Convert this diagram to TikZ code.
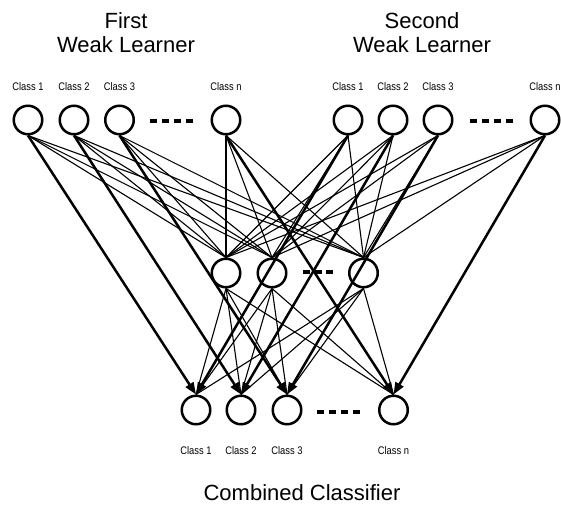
\documentclass[tikz,border=0pt]{standalone}
\usepackage{fontspec}
\setmainfont{Liberation Sans}
\newfontfamily\narrowfont[FakeStretch=0.85]{Liberation Sans}
\usetikzlibrary{arrows.meta}
\begin{document}
\begin{tikzpicture}[x=1pt,y=-1pt,
  unit/.style={circle,draw,line width=2.5pt,minimum size=28.5pt,inner sep=0pt,fill=white},
  lbl/.style={font=\narrowfont\fontsize{11}{13}\selectfont,inner sep=0pt},
  ttl/.style={font=\fontsize{22}{23.5}\selectfont,align=center,inner sep=0pt},
  wire/.style={line width=1.1pt},
  strong/.style={line width=2.5pt,-{Triangle[length=12pt,width=9pt]}},
  dotrow/.style={line width=4pt,dash pattern=on 7pt off 5pt}]
\useasboundingbox (0,0) rectangle (561,506);
% titles
\node[ttl] (t1) at (126,32.5) {First\\Weak Learner};
\node[ttl] (t2) at (422,32.5) {Second\\Weak Learner};
\node[ttl] (t3) at (302,493) {Combined Classifier};
% top left
\node[unit] (T1) at (28,120) {};
\node[unit] (T2) at (74,120) {};
\node[unit] (T3) at (119.5,120) {};
\node[unit] (Tn) at (226,120) {};
% top right
\node[unit] (U1) at (348,120) {};
\node[unit] (U2) at (393,120) {};
\node[unit] (U3) at (438,120) {};
\node[unit] (Un) at (545,120) {};
% middle
\node[unit] (M1) at (226,273) {};
\node[unit] (M2) at (272,273) {};
\node[unit] (Mn) at (363.5,273) {};
% bottom
\node[unit] (B1) at (196,410) {};
\node[unit] (B2) at (241,410) {};
\node[unit] (B3) at (287,410) {};
\node[unit] (Bn) at (393.5,410) {};
% labels
\node[lbl] (lT1) at (28,87) {Class 1};
\node[lbl] (lT2) at (74,87) {Class 2};
\node[lbl] (lT3) at (119.5,87) {Class 3};
\node[lbl] (lTn) at (226,87) {Class n};
\node[lbl] (lU1) at (348,87) {Class 1};
\node[lbl] (lU2) at (393,87) {Class 2};
\node[lbl] (lU3) at (438,87) {Class 3};
\node[lbl] (lUn) at (545,87) {Class n};
\node[lbl] (lB1) at (196,451) {Class 1};
\node[lbl] (lB2) at (241,451) {Class 2};
\node[lbl] (lB3) at (287,451) {Class 3};
\node[lbl] (lBn) at (393.5,451) {Class n};
% dots
\draw[dotrow] (150,121) -- (193,121);
\draw[dotrow] (470,121) -- (513,121);
\draw[dotrow,dash pattern=on 7pt off 4.5pt] (303,272) -- (333,272);
\draw[dotrow] (317,412) -- (361,412);
% thin connectors
\foreach \s in {T1,T2,T3,Tn,U1,U2,U3,Un}
  \foreach \t in {M1,M2,Mn}
    \draw[wire] (\s.south) -- (\t.north);
\foreach \s in {M1,M2,Mn}
  \foreach \t in {B1,B2,B3,Bn}
    \draw[wire] (\s.south) -- (\t.north);
% strong arrows
\draw[strong] (T1.south) -- (B1.north);
\draw[strong] (T2.south) -- (B2.north);
\draw[strong] (T3.south) -- (B3.north);
\draw[strong] (Tn.south) -- (Bn.north);
\draw[strong] (U1.south) -- (B1.north);
\draw[strong] (U2.south) -- (B2.north);
\draw[strong] (U3.south) -- (B3.north);
\draw[strong] (Un.south) -- (Bn.north);
\end{tikzpicture}
\end{document}
